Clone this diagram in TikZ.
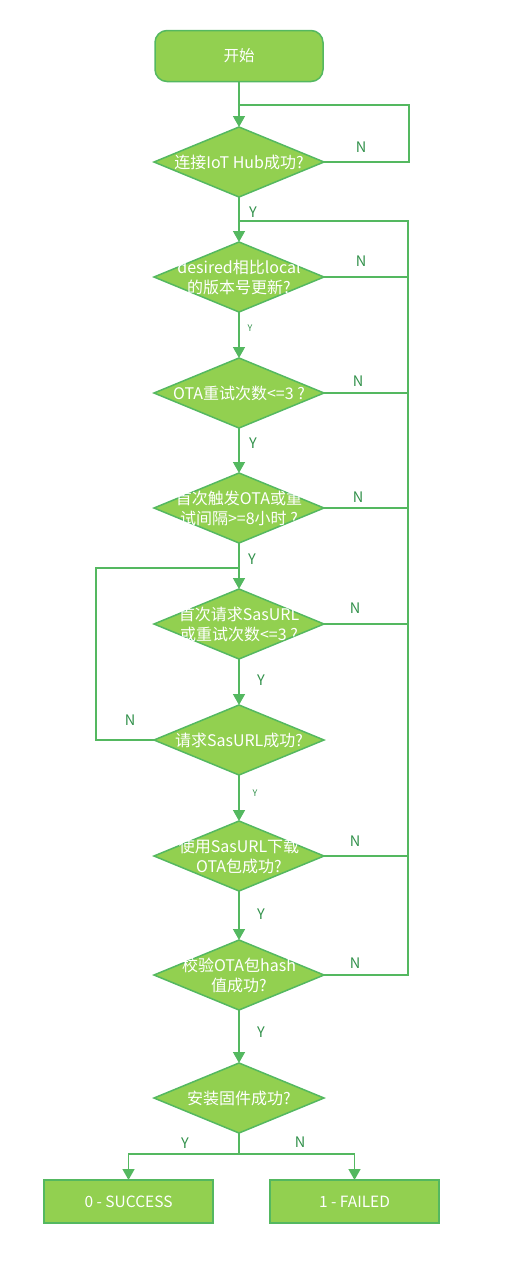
\documentclass[tikz,border=0pt]{standalone}
\usepackage{fontspec}
\setmainfont{Noto Sans CJK SC}
\usetikzlibrary{shapes.geometric,arrows.meta}
\definecolor{fillg}{RGB}{146,208,80}
\definecolor{lineg}{RGB}{84,184,96}
\definecolor{textg}{RGB}{50,145,75}
\begin{document}
\begin{tikzpicture}[x=1pt,y=-1pt,
  dia/.style={diamond, draw=lineg, fill=fillg, line width=1.5pt, minimum width=170pt, minimum height=70pt, inner sep=0pt, outer sep=0pt},
  txt/.style={text=white, font=\fontsize{16}{20}\selectfont, align=center, inner sep=0pt},
  box/.style={rectangle, draw=lineg, fill=fillg, line width=1.5pt, minimum width=169pt, minimum height=43pt, inner sep=0pt, outer sep=0pt, text=white, font=\fontsize{15.5}{20}\selectfont},
  conn/.style={draw=lineg, line width=1.5pt},
  arr/.style={conn, -{Triangle[width=12pt,length=11pt]}},
  lab/.style={text=textg, font=\fontsize{14.5}{16}\selectfont, inner sep=0pt},
  slab/.style={text=textg, font=\fontsize{9}{10}\selectfont, inner sep=0pt}
]
\useasboundingbox (0,0) rectangle (507,1286);
% nodes
\node[box, rounded corners=12pt, minimum width=168pt, minimum height=51pt] (start) at (239,56) {开始};
\node[dia] (d1) at (239,162) {};
\node[txt] (d1t) at (d1) {连接IoT Hub成功?};
\node[dia] (d2) at (239,277) {};
\node[txt] (d2t) at (d2) {desired相比local\\的版本号更新?};
\node[dia] (d3) at (239,393) {};
\node[txt] (d3t) at (d3) {OTA重试次数<=3 ?};
\node[dia] (d4) at (239,508) {};
\node[txt] (d4t) at (d4) {首次触发OTA或重\\试间隔>=8小时 ?};
\node[dia] (d5) at (239,624) {};
\node[txt] (d5t) at (d5) {首次请求SasURL\\或重试次数<=3 ?};
\node[dia] (d6) at (239,740) {};
\node[txt] (d6t) at (d6) {请求SasURL成功?};
\node[dia] (d7) at (239,856) {};
\node[txt] (d7t) at (d7) {使用SasURL下载\\OTA包成功?};
\node[dia] (d8) at (239,975) {};
\node[txt] (d8t) at (d8) {校验OTA包hash\\值成功?};
\node[dia] (d9) at (239,1098) {};
\node[txt] (d9t) at (d9) {安装固件成功?};
\node[box] (succ) at (128.5,1201.5) {0 - SUCCESS};
\node[box] (fail) at (354.5,1201.5) {1 - FAILED};
% coordinates
\coordinate (j1) at (239,105);
\coordinate (j2) at (239,221);
\coordinate (j3) at (239,568);
\coordinate (busR) at (408,221);
% main flow
\draw[arr] (start) -- (d1);
\draw[arr] (d1) -- (d2);
\draw[arr] (d2) -- (d3);
\draw[arr] (d3) -- (d4);
\draw[arr] (d4) -- (d5);
\draw[arr] (d5) -- (d6);
\draw[arr] (d6) -- (d7);
\draw[arr] (d7) -- (d8);
\draw[arr] (d8) -- (d9);
\draw[arr] (d9.south) -- ++(0,21) -| (succ.north);
\draw[arr] (d9.south) -- ++(0,21) -| (fail.north);
% loops
\draw[conn] (d1.east) -- ++(85,0) |- (j1);
\draw[conn] (d8.east) -| (busR) -- (j2);
\draw[conn] (d2.east) -- (d2.east -| busR);
\draw[conn] (d3.east) -- (d3.east -| busR);
\draw[conn] (d4.east) -- (d4.east -| busR);
\draw[conn] (d5.east) -- (d5.east -| busR);
\draw[conn] (d7.east) -- (d7.east -| busR);
\draw[conn] (d6.west) -- ++(-58,0) |- (j3);
% labels
\node[lab] (n1) at (361,147) {N};
\node[lab] (n2) at (361,261) {N};
\node[lab] (n3) at (358,381) {N};
\node[lab] (n4) at (358,497) {N};
\node[lab] (n5) at (355,608) {N};
\node[lab] (n6) at (130,720) {N};
\node[lab] (n7) at (355,841) {N};
\node[lab] (n8) at (355,963) {N};
\node[lab] (n9) at (300,1142) {N};
\node[lab] (y1) at (253,212) {Y};
\node[slab] (y2) at (250,328) {Y};
\node[lab] (y3) at (253,443) {Y};
\node[lab] (y4) at (252,559) {Y};
\node[lab] (y5) at (261,680) {Y};
\node[slab] (y6) at (255,793) {Y};
\node[lab] (y7) at (261,914) {Y};
\node[lab] (y8) at (261,1032) {Y};
\node[lab] (y9) at (185,1143) {Y};
\end{tikzpicture}
\end{document}
